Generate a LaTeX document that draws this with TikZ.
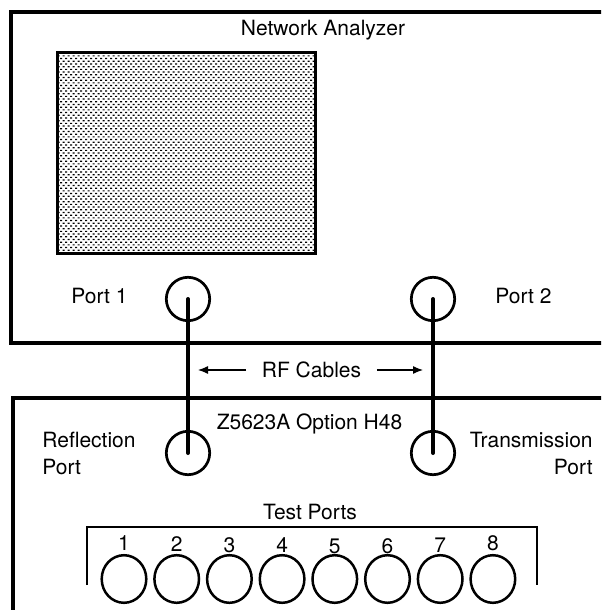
\documentclass[tikz,border=0pt]{standalone}
\usepackage{fontspec}
\setmainfont{TeX Gyre Heros}
\usetikzlibrary{arrows.meta,patterns,shapes.geometric}

% halftone fill of the display
\pgfdeclarepatternformonly{screendots}{\pgfqpoint{-0.1pt}{-0.1pt}}{\pgfqpoint{2.6pt}{2.8pt}}{\pgfqpoint{2.5pt}{2.7pt}}{%
  \pgfpathrectangle{\pgfqpoint{0pt}{0pt}}{\pgfqpoint{1pt}{0.6pt}}%
  \pgfpathrectangle{\pgfqpoint{1.25pt}{1.35pt}}{\pgfqpoint{1pt}{0.6pt}}%
  \pgfusepath{fill}}

\tikzset{
  lbl/.style={font=\fontsize{10.5}{13.5}\selectfont, inner sep=0pt},
  port/.style={draw, circle, line width=1.35pt, minimum size=21.7pt, inner sep=0pt},
  testport/.style={draw, ellipse, line width=1.25pt, minimum width=22.3pt, minimum height=23.8pt, inner sep=0pt},
  cable/.style={line width=2pt, line cap=round},
  rfarrow/.style={line width=0.6pt, -{Latex[length=5pt,width=4pt]}, shorten >=5pt},
}

\begin{document}
\begin{tikzpicture}[x=0.5pt,y=-0.5pt]
\clip (0,0) rectangle (601,610);

% Draw network analyzer case
\draw[line width=1.65pt] (11,12) rectangle (640,343);
\node[lbl] (na) at (323,30) {Network Analyzer};
\draw[line width=1.5pt, pattern=screendots] (57,53) rectangle (315,253);

% Analyzer ports
\node[port] (p1) at (188,299) {};
\node[port] (p2) at (433,299) {};
\node[lbl] (p1lbl) at (99.5,296) {Port 1};
\node[lbl] (p2lbl) at (523.5,296) {Port 2};

% Draw test set case
\draw[line width=1.65pt] (13,398) rectangle (640,640);
\node[lbl] (ts) at (309.5,424) {Z5623A Option H48};
\node[port] (refl) at (188,453) {};
\node[port] (trans) at (433,453) {};
\node[lbl, anchor=west, align=left] (refllbl) at (42,453) {Reflection\\Port};
\node[lbl, anchor=east, align=right] (translbl) at (593,453) {Transmission\\Port};

% RF cables
\draw[cable] (p1.center) -- (refl.center);
\draw[cable] (p2.center) -- (trans.center);
\node[lbl, inner xsep=7.75pt] (rf) at (311.5,370) {RF Cables};
\coordinate (c1) at (188,370);
\coordinate (c2) at (433,370);
\draw[rfarrow] (rf.west) -- (c1);
\draw[rfarrow] (rf.east) -- (c2);

% Test ports 1..8
\node[lbl] (tp) at (310,512) {Test Ports};
\draw[line width=0.65pt] (87,585) -- (87,527) -- (537,527) -- (537,585);
\foreach \i/\dy in {1/0,2/1,3/2,4/2,5/3,6/3,7/2,8/0} {
  \node[testport] (t\i) at ({124+52.7*(\i-1)},579) {};
  \node[lbl] (n\i) at ({124+52.7*(\i-1)},{543+\dy}) {\i};
}
\end{tikzpicture}
\end{document}
